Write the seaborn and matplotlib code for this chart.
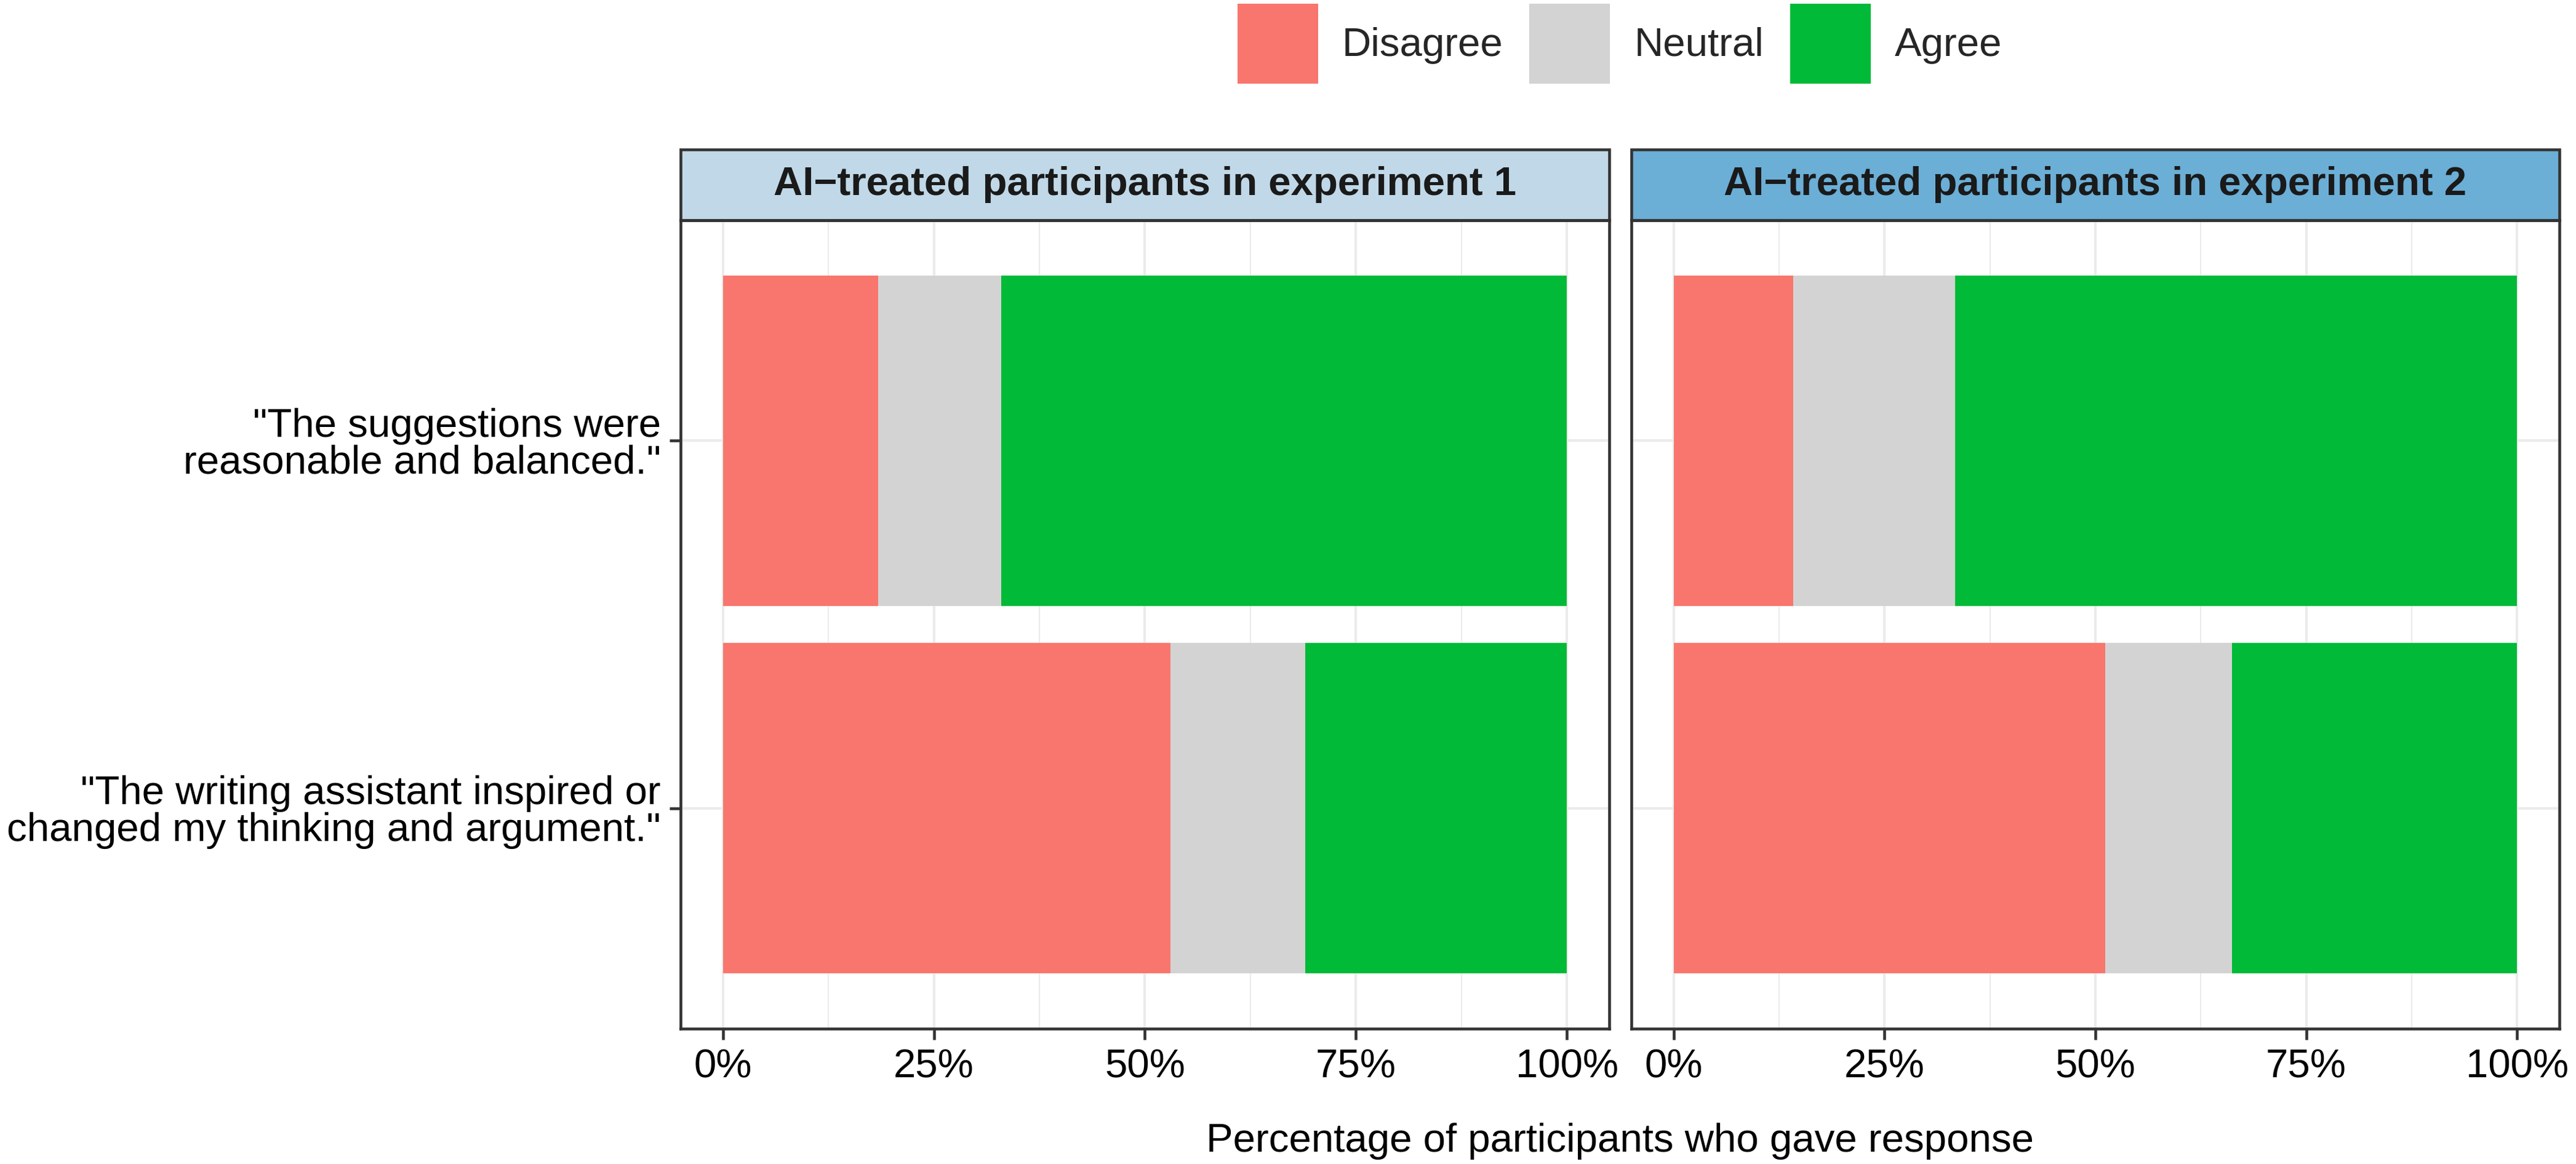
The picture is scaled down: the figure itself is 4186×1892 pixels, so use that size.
import pandas as pd
import matplotlib.pyplot as plt
import seaborn as sns
from matplotlib.patches import Patch, Rectangle
from matplotlib.ticker import MultipleLocator

# Datos (porcentaje de participantes)
items = ['"The suggestions were\nreasonable and balanced."',
         '"The writing assistant inspired or\nchanged my thinking and argument."']
responses = ['Disagree', 'Neutral', 'Agree']
panels = ['AI\u2212treated participants in experiment 1',
          'AI\u2212treated participants in experiment 2']

exp1_disagree = [18.4, 53.0]
exp1_neutral = [14.6, 16.0]
exp1_agree = [67.0, 31.0]

exp2_disagree = [14.2, 51.2]
exp2_neutral = [19.2, 15.0]
exp2_agree = [66.6, 33.8]

x_ticks = [0, 25, 50, 75, 100]
x_tick_labels = ['0%', '25%', '50%', '75%', '100%']

colors = {'Disagree': '#F8766D', 'Neutral': '#D3D3D3', 'Agree': '#00BA38'}
strip_colors = ['#C0D8E7', '#6BAED6']

# Tabla larga con el extremo acumulado de cada segmento
rows = []
for panel, vals in zip(panels, [(exp1_disagree, exp1_neutral, exp1_agree),
                                (exp2_disagree, exp2_neutral, exp2_agree)]):
    for i, item in enumerate(items):
        cum = 0
        for resp, v in zip(responses, vals):
            cum += v[i]
            rows.append({'panel': panel, 'item': item, 'response': resp,
                         'pct': v[i], 'end': cum})
df = pd.DataFrame(rows)

sns.set_theme(style='white')
plt.rcParams['font.family'] = ['Liberation Sans', 'DejaVu Sans']
fs = 15.7

fig = plt.figure(figsize=(4186 / 300, 1892 / 300), dpi=300)
axes = [fig.add_axes([0.2642, 0.1163, 0.3605, 0.6945]),
        fig.add_axes([0.6333, 0.1163, 0.3602, 0.6945])]

for k, (ax, panel) in enumerate(zip(axes, panels)):
    sub = df[df['panel'] == panel]
    sns.barplot(data=sub, x='end', y='item', hue='response',
                hue_order=['Agree', 'Neutral', 'Disagree'], order=items,
                palette=colors, dodge=False, width=0.9, saturation=1,
                orient='h', linewidth=0, legend=False, ax=ax)
    ax.set_xlim(-5, 105)
    ax.set_ylim(1.6, -0.6)
    ax.set_xticks(x_ticks)
    ax.set_xticklabels(x_tick_labels, fontsize=fs, color='black')
    ax.xaxis.set_minor_locator(MultipleLocator(12.5))
    ax.set_axisbelow(True)
    ax.grid(which='major', color='#EBEBEB', linewidth=1.0)
    ax.grid(which='minor', axis='x', color='#EBEBEB', linewidth=0.5)
    ax.set_xlabel('')
    ax.set_ylabel('')
    for s in ax.spines.values():
        s.set_color('#333333')
        s.set_linewidth(1.1)
    ax.tick_params(axis='x', which='major', length=4.3, width=1.1, color='#333333',
                   pad=3.6, bottom=True)
    ax.tick_params(axis='x', which='minor', length=0)
    if k == 0:
        ax.tick_params(axis='y', length=4.3, width=1.1, color='#333333', pad=3.4, left=True)
        ax.set_yticks([0, 1])
        ax.set_yticklabels(items, fontsize=fs, color='black', linespacing=1.0)
    else:
        ax.tick_params(axis='y', length=0, left=False, labelleft=False)

    # Tira superior estilo facet
    strip_h = 115 / 1314
    ax.add_patch(Rectangle((0, 1), 1, strip_h, transform=ax.transAxes,
                           facecolor=strip_colors[k], edgecolor='#333333',
                           linewidth=1.1, clip_on=False))
    ax.text(0.5, 1 + strip_h / 2, panel, transform=ax.transAxes,
            ha='center', va='center', fontsize=fs, fontweight='bold',
            color='#1A1A1A')

fig.text(0.6288, 0.0105, 'Percentage of participants who gave response',
         ha='center', va='baseline', fontsize=fs, color='black')

handles = [Patch(facecolor=colors[r], edgecolor='none', label=r) for r in responses]
fig.legend(handles=handles, loc='center', bbox_to_anchor=(0.6288, 1 - 71 / 1892),
           ncol=3, frameon=False, fontsize=fs, handlelength=2.0, handleheight=2.7,
           handletextpad=0.6, columnspacing=0.65, borderpad=0, borderaxespad=0)

fig.savefig('out.png', dpi=300)
